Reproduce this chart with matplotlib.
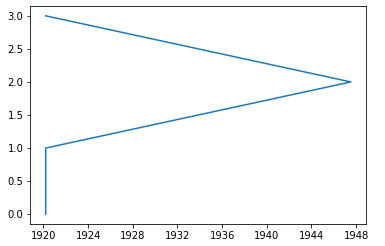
import pandas as pd
import matplotlib
matplotlib.use('Agg')
import matplotlib.pyplot as plt

# dates on x, sequence index on y
dates = pd.to_datetime(['1920-03-15', '1920-03-15', '1947-07-15', '1920-03-15'])
values = [0, 1, 2, 3]

fig, ax = plt.subplots(figsize=(385 / 72, 246 / 72), dpi=72)
ax.plot(dates, values)
fig.subplots_adjust(left=0.079, right=0.951, top=0.976, bottom=0.089)

fig.savefig('out.png', dpi=72)
